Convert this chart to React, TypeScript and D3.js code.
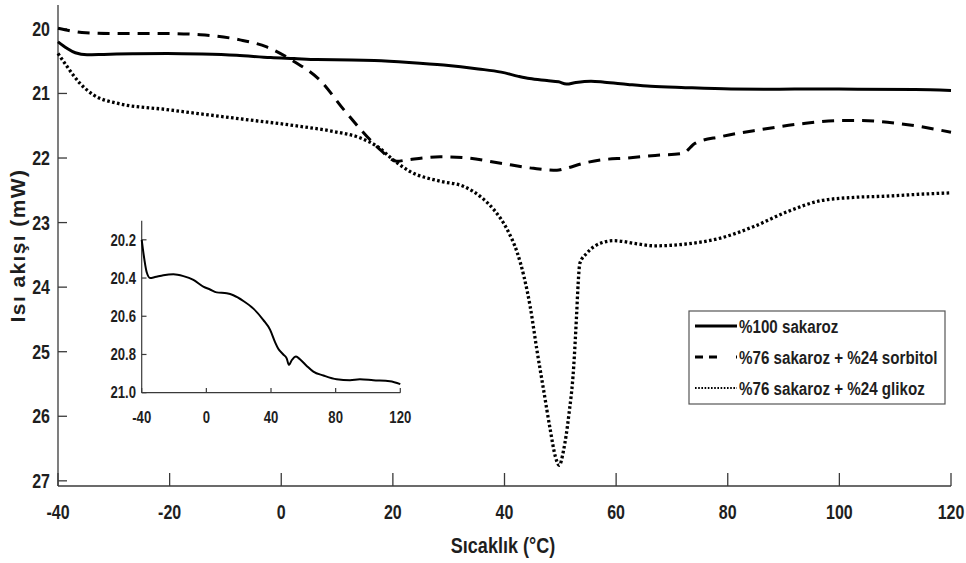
import React from "react";
import * as d3 from "d3";

// ---- data ----
const sakarozT = [-40, -38.4, -36.9, -34.8, -31.8, -26.6, -20.4, -14.2, -8, -1.9, 2.3, 6.4, 12.6, 16.7, 22.9, 29.1, 35.3, 39.4, 42.5, 44.5, 47.6, 49.7, 51.1, 52.8, 55.5, 57.9, 62.1, 66.2, 72.4, 80.6, 88.9, 95, 103.3, 113.6, 120];
const sakarozY = [20.2, 20.3, 20.37, 20.4, 20.395, 20.385, 20.38, 20.39, 20.41, 20.445, 20.46, 20.475, 20.48, 20.49, 20.52, 20.56, 20.62, 20.67, 20.735, 20.77, 20.8, 20.82, 20.855, 20.83, 20.81, 20.825, 20.86, 20.89, 20.91, 20.93, 20.935, 20.93, 20.935, 20.94, 20.955];

const sorbitolT = [-40, -35, -30.7, -21.7, -14.5, -7.4, -2.6, 2.2, 7, 11.2, 15.4, 17.7, 20.7, 22.5, 28.5, 33.3, 39.3, 45.2, 49.4, 50.6, 54.2, 57.2, 62, 67, 71.9, 74.2, 78.7, 85.9, 93.1, 100.2, 103.8, 111, 120];
const sorbitolY = [19.99, 20.06, 20.07, 20.07, 20.09, 20.17, 20.28, 20.5, 20.8, 21.25, 21.67, 21.87, 22.05, 22.03, 21.98, 22.0, 22.08, 22.16, 22.19, 22.17, 22.08, 22.03, 22.0, 21.96, 21.93, 21.77, 21.67, 21.56, 21.47, 21.42, 21.42, 21.47, 21.6];

const glikozT = [-40, -38.4, -36.1, -33.7, -29.5, -20.5, -8.6, 3.4, 9.4, 14.2, 17.2, 20.1, 23.1, 28.5, 32.7, 36, 38.1, 40.5, 42.3, 43.5, 44.6, 45.8, 47, 48.2, 49.1, 49.8, 50.6, 51.5, 52.4, 52.9, 53.2, 53.5, 54.8, 57.2, 59.6, 63.8, 66.8, 72.8, 78.7, 84.7, 90.7, 96.7, 102.6, 108.6, 114.6, 120];
const glikozY = [20.38, 20.58, 20.84, 21.02, 21.15, 21.25, 21.38, 21.51, 21.59, 21.69, 21.82, 22.03, 22.21, 22.36, 22.44, 22.62, 22.8, 23.11, 23.47, 23.84, 24.3, 24.97, 25.59, 26.21, 26.62, 26.76, 26.52, 26.0, 25.23, 24.46, 23.94, 23.63, 23.47, 23.32, 23.28, 23.33, 23.36, 23.33, 23.24, 23.06, 22.83, 22.66, 22.61, 22.59, 22.56, 22.54];

const legendLabels = ["%100 sakaroz", "%76 sakaroz + %24 sorbitol", "%76 sakaroz + %24 glikoz"];
const xTicks = [-40, -20, 0, 20, 40, 60, 80, 100, 120];
const yTicks = [20, 21, 22, 23, 24, 25, 26, 27];
const insetXTicks = [-40, 0, 40, 80, 120];
const insetYTicks = [20.2, 20.4, 20.6, 20.8, 21.0];
const xTitle = "Sıcaklık (°C)";
const yTitle = "Isı akışı (mW)";

const FONT = "'Liberation Sans', Arial, sans-serif";
const AXIS = "#3a3a3a";
const TXT = "#1e1e1e";
const NARROW_K = 0.82;

type Pt = [number, number];
const zip = (t: number[], v: number[]): Pt[] => t.map((d, i) => [d, v[i]]);

function NText(props: { x: number; y: number; size: number; anchor?: string; dy?: string; children: React.ReactNode; weight?: string }) {
  const { x, y, size, anchor = "start", dy, children, weight = "bold" } = props;
  return (
    <text
      transform={`translate(${x},${y}) scale(${NARROW_K},1)`}
      dy={dy}
      textAnchor={anchor}
      fontFamily={FONT}
      fontWeight={weight}
      fontSize={size}
      fill={TXT}
    >
      {children}
    </text>
  );
}

export default function App() {
  const W = 966, H = 563;
  const x = d3.scaleLinear().domain([-40, 120]).range([58, 951]);
  const y = d3.scaleLinear().domain([19.63, 27.08]).range([5, 486]);
  const xi = d3.scaleLinear().domain([-40, 120]).range([141.7, 400.3]);
  const yi = d3.scaleLinear().domain([20.1, 21.0]).range([220.7, 392.7]);

  const line = d3.line<Pt>().x(d => x(d[0])).y(d => y(d[1])).curve(d3.curveMonotoneX);
  const lineI = d3.line<Pt>().x(d => xi(d[0])).y(d => yi(d[1])).curve(d3.curveMonotoneX);

  const series = [
    { data: zip(sakarozT, sakarozY), dash: undefined as string | undefined, w: 3, legDash: undefined as string | undefined, legW: 3 },
    { data: zip(sorbitolT, sorbitolY), dash: "12,8", w: 3, legDash: "8,6,8,19,2", legW: 3 },
    { data: zip(glikozT, glikozY), dash: "2.6,2.4", w: 3.3, legDash: "1.6,1.6", legW: 2 },
  ];

  const legX = 689, legY = 311, legW = 256, legH = 93;
  const rowY = [326, 357, 388];

  return (
    <div style={{ position: "fixed", left: 0, top: 0 }}>
      <svg width={W} height={H} style={{ display: "block", background: "#fff" }}>
        {/* main axes */}
        <line x1={58} x2={58} y1={5} y2={486} stroke={AXIS} strokeWidth={1.3} />
        <line x1={58} x2={951} y1={486} y2={486} stroke={AXIS} strokeWidth={1.3} />
        {xTicks.map(t => (
          <g key={"xt" + t}>
            <line x1={x(t)} x2={x(t)} y1={486} y2={473} stroke={AXIS} strokeWidth={1.3} />
            <NText x={x(t)} y={519} size={19.5} anchor="middle">{t}</NText>
          </g>
        ))}
        {yTicks.map(t => (
          <g key={"yt" + t}>
            <line x1={58} x2={67} y1={y(t)} y2={y(t)} stroke={AXIS} strokeWidth={1.3} />
            <NText x={50} y={y(t)} dy="0.36em" size={19.5} anchor="end">{t}</NText>
          </g>
        ))}
        <NText x={503} y={553} size={22} anchor="middle">{xTitle}</NText>
        <text transform="translate(25,245.5) rotate(-90)" textAnchor="middle" fontFamily={FONT} fontWeight="bold" fontSize={21} letterSpacing={1.4} fill={TXT}>{yTitle}</text>

        {/* main curves */}
        {series.map((s, i) => (
          <path key={"s" + i} d={line(s.data) || ""} fill="none" stroke="#000" strokeWidth={s.w} strokeDasharray={s.dash} />
        ))}

        {/* inset */}
        <line x1={141.7} x2={141.7} y1={220.7} y2={392.7} stroke={AXIS} strokeWidth={1.2} />
        <line x1={141.7} x2={400.3} y1={392.7} y2={392.7} stroke={AXIS} strokeWidth={1.2} />
        {insetXTicks.map(t => (
          <g key={"ixt" + t}>
            <line x1={xi(t)} x2={xi(t)} y1={392.7} y2={388} stroke={AXIS} strokeWidth={1.2} />
            <NText x={xi(t)} y={423} size={16} anchor="middle">{t}</NText>
          </g>
        ))}
        {insetYTicks.map(t => (
          <g key={"iyt" + t}>
            <line x1={141.7} x2={146.5} y1={yi(t)} y2={yi(t)} stroke={AXIS} strokeWidth={1.2} />
            <NText x={136} y={yi(t)} dy="0.36em" size={16} anchor="end">{t.toFixed(1)}</NText>
          </g>
        ))}
        <path d={lineI(series[0].data) || ""} fill="none" stroke="#000" strokeWidth={2} />

        {/* legend */}
        <rect x={legX} y={legY} width={legW} height={legH} fill="#fff" stroke="#555" strokeWidth={1.2} />
        {series.map((s, i) => (
          <g key={"lg" + i}>
            <line x1={695} x2={737} y1={rowY[i]} y2={rowY[i]} stroke="#000" strokeWidth={s.legW} strokeDasharray={s.legDash} />
            <NText x={739} y={rowY[i]} dy="0.36em" size={18.5}>{legendLabels[i]}</NText>
          </g>
        ))}
      </svg>
    </div>
  );
}
